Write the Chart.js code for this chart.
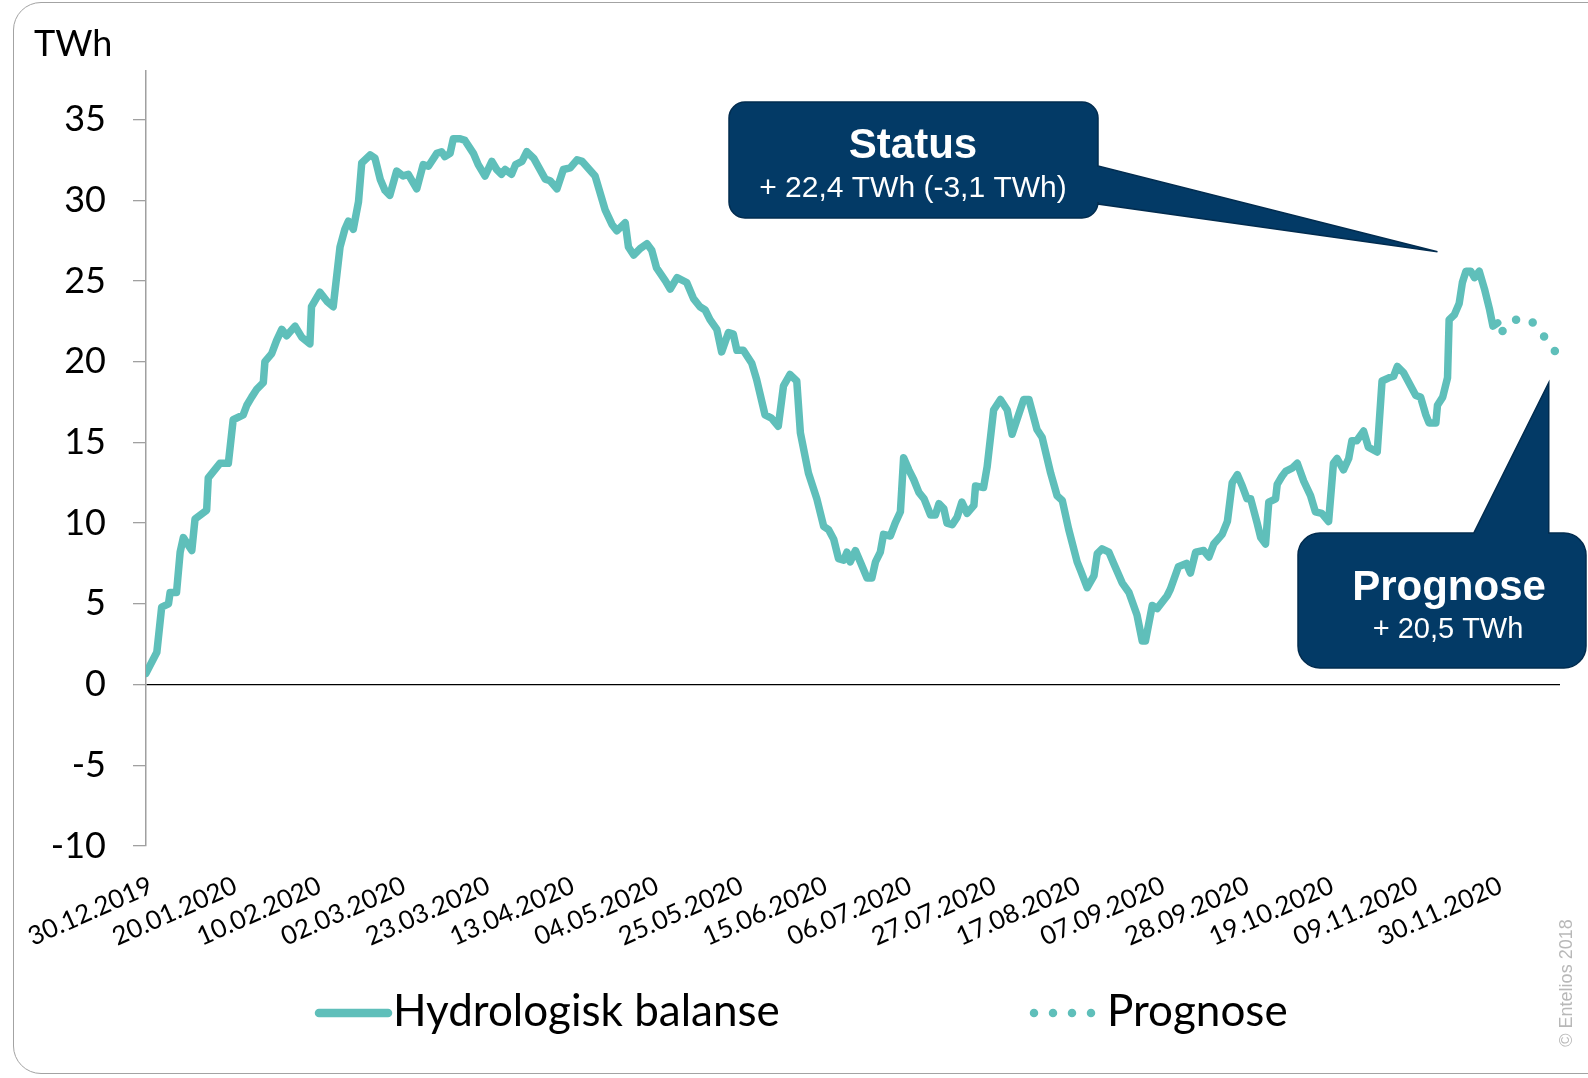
<!DOCTYPE html>
<html>
<head>
<meta charset="utf-8">
<script src="https://cdn.jsdelivr.net/npm/chart.js@4.4.1/dist/chart.umd.min.js"></script>
<style>
  html, body { margin: 0; padding: 0; background: #fff; overflow: hidden; }
  #frame {
    position: absolute; left: 13px; top: 2px; width: 1700px; height: 1070px;
    border: 1.5px solid #a3a3a3; border-radius: 28px;
  }
  #wrap { position: absolute; left: 0; top: 0; width: 1588px; height: 1078px; }
</style>
</head>
<body>
<div id="frame"></div>
<div id="wrap"><canvas id="chart" width="1588" height="1078"></canvas></div>
<script>
// x values are days since 30.12.2019
const tickDays = [0, 21, 42, 63, 84, 105, 126, 147, 168, 189, 210, 231, 252, 273, 294, 315, 336];
const tickLabels = [
  "30.12.2019", "20.01.2020", "10.02.2020", "02.03.2020", "23.03.2020", "13.04.2020",
  "04.05.2020", "25.05.2020", "15.06.2020", "06.07.2020", "27.07.2020", "17.08.2020",
  "07.09.2020", "28.09.2020", "19.10.2020", "09.11.2020", "30.11.2020"
];
const yTicks = [-10, -5, 0, 5, 10, 15, 20, 25, 30, 35];

const balanceDays = [
  0, 2.7, 3.9, 5.6, 6.0, 7.6, 8.5, 9.3, 11.4, 12.2,
  15.1, 15.5, 18.4, 20.5, 21.7, 24.2, 25.1, 26.3, 27.6, 29.2,
  29.6, 31.3, 32.5, 33.8, 35, 37.1, 38.8, 40.8, 41.2, 43.3,
  45, 46.6, 48.3, 49.5, 50.4, 51.6, 52.9, 53.7, 55.8, 57,
  58.3, 59.5, 60.7, 62.4, 64, 65.3, 67.4, 69, 70.3, 72.4,
  73.6, 74.4, 75.7, 76.5, 78.2, 79.4, 81.5, 82.7,
  84.4, 86.1, 87.3, 88.5, 89.4, 91, 92, 93.6, 94.8, 96.5,
  99.4, 100.6, 102.3, 103.9, 105.6, 107.3, 108.6, 111.8, 114.3, 116,
  117.2, 119.3, 120.1, 121.4, 123, 124.7, 125.9, 127.1, 129.3, 130.5,
  132.2, 134.6, 136.3, 137.9, 139.2, 140.4, 142.1, 143.3, 145, 146.2,
  147.1, 148.7, 150.8, 152, 154.1, 155.7, 157.4, 158.7, 160.3, 162,
  162.9, 164.9, 167,
  168.7, 169.9, 171.2, 172.4, 173.7, 174.5, 175.3, 176.6, 177.8, 179.5,
  180.7, 181.6, 182.8, 183.6, 185.3, 186.5, 187.8, 188.6, 189.9, 191.1,
  192.4, 193.7, 195.3, 196.5, 197.4, 198.6, 199.4, 200.7, 201.9, 203.1,
  204.4, 206.1, 206.5, 208.5, 209.4, 211, 212.7, 214.4, 215.6, 216.8,
  218.5, 219.8, 221.8, 223.1, 225.2, 226.8, 228.1, 229.7, 231.8, 232.6,
  234.3, 236, 236.8, 238, 239.7, 240.9, 243, 244.7, 246.7, 248,
  248.8, 250.5, 251.7, 254.2, 255, 257, 259, 260, 261.3,
  263.3, 264.6, 265.8, 267.9, 269.2, 270.4, 271.7, 272.9, 274.1, 275,
  276.6, 277.5, 278.7, 279.5, 281.2, 281.6, 282.8, 283.7, 285.3, 286.6,
  288.2, 289.9, 291.1, 292.7, 294.4, 295.6, 296.5, 298.1, 299.4, 300.2,
  301.4, 303.1, 304.3, 306.5, 307.7, 309.4, 310.6, 311.5, 313.1, 314.8,
  316.1, 317.3, 318.6, 319.4, 321.1, 321.5, 322.8, 324, 324.4, 325.7,
  326.9, 327.7, 328.6, 329.8, 330.7, 331.9, 333.2, 334.4, 335.3, 336.5
];
const balanceValues = [
  0.7, 2.0, 4.8, 5.0, 5.7, 5.7, 8.2, 9.1, 8.3, 10.25,
  10.8, 12.8, 13.7, 13.7, 16.4, 16.7, 17.3, 17.8, 18.3, 18.7,
  20.0, 20.5, 21.3, 22.0, 21.6, 22.2, 21.5, 21.1, 23.4, 24.3,
  23.75, 23.4, 27.1, 28.2, 28.7, 28.2, 29.9, 32.3, 32.8, 32.6,
  31.3, 30.6, 30.3, 31.8, 31.5, 31.6, 30.7, 32.2, 32.1, 32.9,
  33.0, 32.7, 32.9, 33.8, 33.8, 33.7, 32.9, 32.2,
  31.5, 32.4, 31.9, 31.6, 31.9, 31.6, 32.2, 32.4, 33.0, 32.6,
  31.3, 31.2, 30.7, 31.9, 32.0, 32.5, 32.4, 31.5, 29.4, 28.5,
  28.1, 28.6, 27.1, 26.6, 27.0, 27.3, 26.9, 25.8, 25.0, 24.5,
  25.2, 24.9, 23.9, 23.4, 23.2, 22.6, 22.0, 20.6, 21.8, 21.7,
  20.7, 20.7, 19.9, 18.9, 16.7, 16.5, 16.0, 18.5, 19.2, 18.8,
  15.6, 13.1, 11.5,
  9.8, 9.6, 9.0, 7.8, 7.7, 8.2, 7.6, 8.3, 7.6, 6.6,
  6.6, 7.6, 8.2, 9.3, 9.2, 10.0, 10.7, 14.05, 13.3, 12.7,
  11.9, 11.5, 10.5, 10.5, 11.2, 10.9, 10.0, 9.9, 10.35, 11.3,
  10.6, 11.1, 12.3, 12.2, 13.5, 17.0, 17.65, 17.0, 15.5, 16.4,
  17.65, 17.65, 15.8, 15.3, 13.1, 11.7, 11.4, 9.6, 7.6, 7.1,
  6.0, 6.75, 8.1, 8.4, 8.2, 7.5, 6.3, 5.7, 4.3, 2.7,
  2.7, 4.9, 4.7, 5.5, 5.9, 7.3, 7.5, 6.9, 8.2,
  8.3, 7.9, 8.7, 9.3, 10.1, 12.5, 13.0, 12.3, 11.5, 11.5,
  10.0, 9.1, 8.7, 11.3, 11.5, 12.4, 12.9, 13.2, 13.4, 13.7,
  12.6, 11.7, 10.7, 10.6, 10.1, 13.7, 14.0, 13.3, 14.0, 15.1,
  15.1, 15.7, 14.7, 14.4, 18.8, 19.0, 19.1, 19.7, 19.3, 18.5,
  17.9, 17.8, 16.7, 16.2, 16.2, 17.3, 17.8, 19.0, 22.6, 22.9,
  23.6, 24.9, 25.6, 25.6, 25.2, 25.6, 24.5, 23.3, 22.2, 22.4
];

const prognoseDays = [337.7, 340.7, 344.6, 347.9, 350.9];
const prognoseValues = [21.9, 22.6, 22.6, 21.6, 20.6];

const TEAL = "#5FBFBA";
const NAVY = "#033A66";


function toPoints(xs, ys) {
  return xs.map((x, i) => ({ x: x, y: ys[i] }));
}


function roundCorner(ctx, x1, y1, x2, y2, r) {
  ctx.arcTo(x1, y1, x2, y2, r);
}


const decorations = {
  id: "decorations",

  afterDraw(chart) {

    const ctx = chart.ctx;
    const sx = chart.scales.x;
    const sy = chart.scales.y;

    ctx.save();

    // unit label
    ctx.fillStyle = "#000";
    ctx.font = "36px Lato";
    ctx.textAlign = "left";
    ctx.textBaseline = "alphabetic";
    ctx.fillText("TWh", 34, 56);

    // Status callout
    let L = 729, T = 102, R = 1098, B = 218, r = 16;
    let tipX = sx.getPixelForValue(321.5);
    let tipY = sy.getPixelForValue(26.8);

    ctx.beginPath();
    ctx.moveTo(L + r, T);
    ctx.lineTo(R - r, T);
    roundCorner(ctx, R, T, R, T + r, r);
    ctx.lineTo(R, 166);
    ctx.lineTo(tipX, tipY);
    ctx.lineTo(R, 204);
    ctx.lineTo(R, B - r);
    roundCorner(ctx, R, B, R - r, B, r);
    ctx.lineTo(L + r, B);
    roundCorner(ctx, L, B, L, B - r, r);
    ctx.lineTo(L, T + r);
    roundCorner(ctx, L, T, L + r, T, r);
    ctx.closePath();
    ctx.fillStyle = NAVY;
    ctx.fill();
    ctx.strokeStyle = "#022c4f";
    ctx.lineWidth = 1.5;
    ctx.stroke();

    ctx.fillStyle = "#fff";
    ctx.textAlign = "center";
    ctx.font = "bold 42px 'Liberation Sans', Arial";
    ctx.fillText("Status", 913, 158);
    ctx.font = "30px 'Liberation Sans', Arial";
    ctx.fillText("+ 22,4 TWh (-3,1 TWh)", 913, 197);

    // Prognose callout
    L = 1298; T = 533; R = 1586; B = 668; r = 22;
    tipX = sx.getPixelForValue(349.2);
    tipY = sy.getPixelForValue(18.7);

    ctx.beginPath();
    ctx.moveTo(L + r, T);
    ctx.lineTo(tipX - 75, T);
    ctx.lineTo(tipX, tipY);
    ctx.lineTo(tipX, T);
    ctx.lineTo(R - r, T);
    roundCorner(ctx, R, T, R, T + r, r);
    ctx.lineTo(R, B - r);
    roundCorner(ctx, R, B, R - r, B, r);
    ctx.lineTo(L + r, B);
    roundCorner(ctx, L, B, L, B - r, r);
    ctx.lineTo(L, T + r);
    roundCorner(ctx, L, T, L + r, T, r);
    ctx.closePath();
    ctx.fillStyle = NAVY;
    ctx.fill();
    ctx.strokeStyle = "#022c4f";
    ctx.stroke();

    ctx.fillStyle = "#fff";
    ctx.font = "bold 42px 'Liberation Sans', Arial";
    ctx.fillText("Prognose", 1449, 600);
    ctx.font = "29px 'Liberation Sans', Arial";
    ctx.fillText("+ 20,5 TWh", 1448, 638);

    // legend
    ctx.strokeStyle = TEAL;
    ctx.lineCap = "round";
    ctx.lineWidth = 8.5;
    ctx.beginPath();
    ctx.moveTo(319, 1013);
    ctx.lineTo(388, 1013);
    ctx.stroke();

    ctx.setLineDash([0, 19]);
    ctx.beginPath();
    ctx.moveTo(1034, 1013);
    ctx.lineTo(1092, 1013);
    ctx.stroke();
    ctx.setLineDash([]);

    ctx.fillStyle = "#000";
    ctx.textAlign = "left";
    ctx.textBaseline = "middle";
    ctx.font = "44px Lato";
    ctx.fillText("Hydrologisk balanse", 393, 1012);
    ctx.fillText("Prognose", 1107, 1012);

    // copyright
    ctx.translate(1567, 983);
    ctx.rotate(-Math.PI / 2);
    ctx.fillStyle = "#b8b8b8";
    ctx.textAlign = "center";
    ctx.font = "18px 'Liberation Sans', Arial";
    ctx.fillText("\u00A9 Entelios 2018", 0, 0);

    ctx.restore();

  }
};


new Chart(

  document.getElementById("chart"),

  {
    type: "line",

    data: {

      datasets: [

        {
          label: "Hydrologisk balanse",
          data: toPoints(balanceDays, balanceValues),
          borderColor: TEAL,
          borderWidth: 7.5,
          pointRadius: 0,
          tension: 0,
          borderJoinStyle: "round",
          borderCapStyle: "round"
        },

        {
          label: "Prognose",
          data: toPoints(prognoseDays, prognoseValues),
          borderColor: TEAL,
          borderWidth: 8.5,
          borderDash: [0, 18],
          borderCapStyle: "round",
          pointRadius: 0,
          tension: 0
        }

      ]
    },

    options: {

      responsive: false,
      animation: false,
      events: [],

      layout: {
        padding: { top: 71, right: 28, left: 0, bottom: 0 }
      },

      plugins: {
        legend: { display: false },
        tooltip: { enabled: false }
      },

      scales: {

        x: {
          type: "linear",
          min: 0,
          max: 352,
          afterBuildTicks: (s) => { s.ticks = tickDays.map((v) => ({ value: v })); },
          afterFit: (s) => { s.height = 232; s.paddingLeft = 0; s.paddingRight = 0; },
          grid: { display: false, drawTicks: false },
          border: { display: false },
          ticks: {
            autoSkip: false,
            minRotation: 24,
            maxRotation: 24,
            padding: 24,
            labelOffset: 5,
            color: "#000",
            font: { family: "Lato", size: 26 },
            callback: (v, i) => tickLabels[i]
          }
        },

        y: {
          min: -10,
          max: 38,
          afterBuildTicks: (s) => { s.ticks = yTicks.map((v) => ({ value: v })); },
          afterFit: (s) => { s.width = 146; },
          grid: {
            drawOnChartArea: true,
            color: (c) => (c.tick && c.tick.value === 0 ? "#000" : "rgba(0,0,0,0)"),
            tickColor: "#a0a0a0",
            tickLength: 13,
            lineWidth: 1.3
          },
          border: { display: true, color: "#a0a0a0", width: 1.5 },
          ticks: {
            padding: 27,
            color: "#000",
            font: { family: "Lato", size: 36 }
          }
        }

      }
    },

    plugins: [decorations]
  }

);
</script>
</body>
</html>
